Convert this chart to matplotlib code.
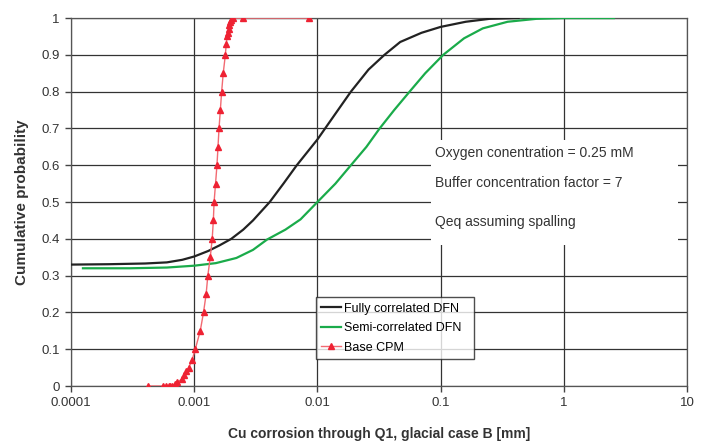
import matplotlib
matplotlib.use('Agg')
import matplotlib.pyplot as plt
from matplotlib.patches import Rectangle

plt.rcParams['font.family'] = ['Liberation Sans', 'DejaVu Sans']

# Fully correlated DFN
full_x = [0.0001, 0.0002, 0.0004, 0.0006, 0.0008, 0.001, 0.0013, 0.0016, 0.002,
          0.0025, 0.003, 0.0041, 0.0053, 0.0068, 0.01, 0.014, 0.0187, 0.026, 0.035,
          0.047, 0.07, 0.1, 0.16, 0.25, 0.43]
full_y = [0.33, 0.331, 0.333, 0.336, 0.343, 0.352, 0.367, 0.382, 0.40,
          0.425, 0.45, 0.50, 0.55, 0.60, 0.67, 0.74, 0.80, 0.86, 0.90,
          0.935, 0.96, 0.976, 0.99, 0.998, 1.0]

# Semi-correlated DFN
semi_x = [0.000125, 0.0003, 0.0006, 0.001, 0.0015, 0.0022, 0.003, 0.0039,
          0.0055, 0.0073, 0.01, 0.014, 0.0187, 0.025, 0.032, 0.042, 0.056,
          0.075, 0.105, 0.155, 0.22, 0.35, 0.6, 1.0, 2.55]
semi_y = [0.32, 0.32, 0.322, 0.327, 0.334, 0.348, 0.37, 0.398,
          0.425, 0.453, 0.50, 0.55, 0.60, 0.65, 0.70, 0.75, 0.80,
          0.85, 0.90, 0.945, 0.972, 0.99, 0.998, 1.0, 1.0]

# Base CPM
cpm_x = [0.00042, 0.00056, 0.00059, 0.00062, 0.00064, 0.00066, 0.0007, 0.00073,
         0.0008, 0.00083, 0.00086, 0.0009, 0.00096, 0.00102, 0.00112, 0.00119,
         0.00125, 0.00129, 0.00135, 0.0014, 0.00143, 0.00145, 0.00149, 0.00153,
         0.00156, 0.00159, 0.00163, 0.00167, 0.00172, 0.00179, 0.00182, 0.00185,
         0.00188, 0.0019, 0.00193, 0.00196, 0.002, 0.00207, 0.0025, 0.0085]
cpm_y = [0.0, 0.0, 0.0, 0.0, 0.0, 0.0, 0.005, 0.01,
         0.02, 0.03, 0.04, 0.05, 0.07, 0.10, 0.15, 0.20,
         0.25, 0.30, 0.35, 0.40, 0.45, 0.50, 0.55, 0.60,
         0.65, 0.70, 0.75, 0.80, 0.85, 0.90, 0.93, 0.95,
         0.96, 0.97, 0.98, 0.99, 0.995, 1.0, 1.0, 1.0]

x_ticks = [0.0001, 0.001, 0.01, 0.1, 1, 10]
x_tick_labels = ['0.0001', '0.001', '0.01', '0.1', '1', '10']
y_ticks = [0, 0.1, 0.2, 0.3, 0.4, 0.5, 0.6, 0.7, 0.8, 0.9, 1]
y_tick_labels = ['0', '0.1', '0.2', '0.3', '0.4', '0.5', '0.6', '0.7', '0.8', '0.9', '1']

notes = ['Oxygen conentration = 0.25 mM',
         'Buffer concentration factor = 7',
         'Qeq assuming spalling']

fig = plt.figure(figsize=(7.01, 4.41), dpi=100)
ax = fig.add_axes([0.1013, 0.1247, 0.8787, 0.8343])

ax.plot(full_x, full_y, color='#222222', lw=1.6, label='Fully correlated DFN', zorder=4)
ax.plot(semi_x, semi_y, color='#1aab4a', lw=1.6, label='Semi-correlated DFN', zorder=4)
ax.plot(cpm_x, cpm_y, color='#f26a72', lw=1.0, marker='^', markersize=4.5,
        markerfacecolor='#ee2233', markeredgecolor='#ee2233', label='Base CPM', zorder=5)

ax.set_xscale('log')
ax.set_xlim(0.0001, 10)
ax.set_ylim(0, 1)
ax.set_xticks(x_ticks)
ax.set_xticklabels(x_tick_labels)
ax.set_yticks(y_ticks)
ax.set_yticklabels(y_tick_labels)
ax.minorticks_off()
ax.tick_params(axis='both', direction='out', length=4, width=1, color='#444444',
               labelsize=9.5, labelcolor='#333333', pad=4)
ax.grid(True, color='#333333', lw=0.9)
ax.set_axisbelow(True)
for s in ax.spines.values():
    s.set_color('#555555')
    s.set_linewidth(0.9)

# white box with annotations, hiding the grid behind it
ax.add_patch(Rectangle((0.584, 0.383), 0.401, 0.285, transform=ax.transAxes,
                       facecolor='white', edgecolor='none', zorder=2))
for txt, yy in zip(notes, [0.633, 0.552, 0.446]):
    ax.text(0.591, yy, txt, transform=ax.transAxes, fontsize=10, color='#333333',
            va='center', ha='left', zorder=3)

leg = ax.legend(loc='lower left', bbox_to_anchor=(0.397, 0.073, 0.2565, 0.163),
                mode='expand', borderaxespad=0, fontsize=9, frameon=True,
                fancybox=False, handlelength=1.6, labelspacing=0.6, borderpad=0.45,
                handletextpad=0.2)
leg.get_frame().set_edgecolor('#222222')
leg.get_frame().set_linewidth(1.0)
leg.set_zorder(6)

ax.set_ylabel('Cumulative probability', fontsize=11, fontweight='bold', color='#333333',
              labelpad=9)
ax.set_xlabel('Cu corrosion through Q1, glacial case B [mm]', fontsize=10,
              fontweight='bold', color='#333333', labelpad=13)

fig.savefig('out.png', dpi=100)
